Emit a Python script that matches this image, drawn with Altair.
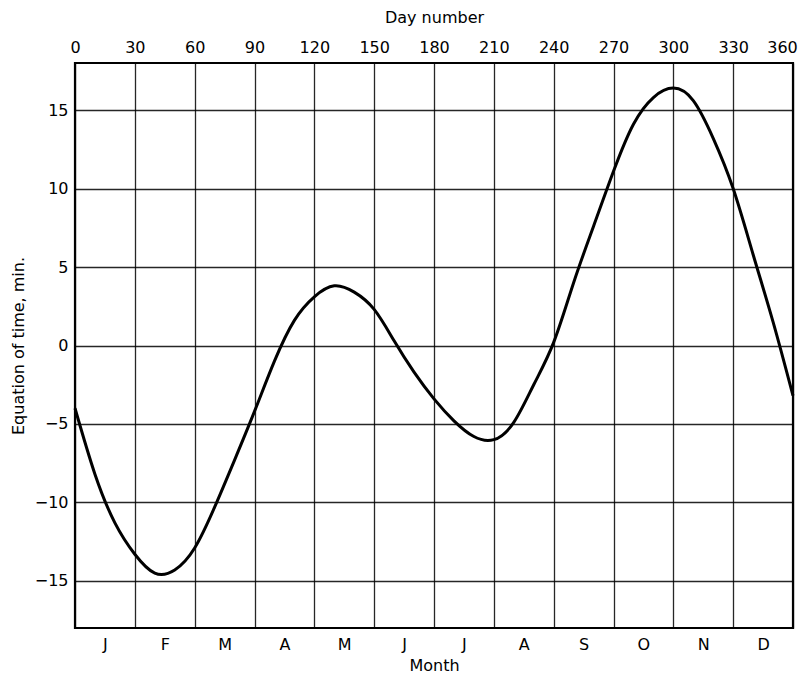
import altair as alt
import pandas as pd

# Equation of time, every 10 days (minutes)
days = list(range(0, 361, 10))
eot = [-4.0, -8.2, -11.3, -13.3, -14.5, -14.3, -12.9, -10.3, -7.3, -4.2,
       -1.0, 1.6, 3.1, 3.8, 3.4, 2.3, 0.3, -1.7, -3.4, -4.8,
       -5.8, -6.0, -4.9, -2.5, 0.2, 4.0, 7.6, 11.1, 14.1, 15.8,
       16.4, 15.6, 13.2, 10.0, 5.8, 1.5, -3.2]

day_ticks = list(range(0, 361, 30))
y_ticks = [-15, -10, -5, 0, 5, 10, 15]
month_letters = ["J", "F", "M", "A", "M", "J", "J", "A", "S", "O", "N", "D"]
month_centers = [15 + 30 * i for i in range(12)]

df = pd.DataFrame({"day": days, "eot": eot})
mdf = pd.DataFrame({"mid": month_centers, "m": month_letters})

FONT = "DejaVu Sans"
label_expr = "[" + ",".join("'%s'" % m for m in month_letters) + "][floor(datum.value/30)]"

line = alt.Chart(df).mark_line(
    color="black", strokeWidth=3, interpolate="natural"
).encode(
    x=alt.X("day:Q",
            scale=alt.Scale(domain=[0, 360], nice=False, zero=False),
            axis=alt.Axis(orient="top", title="Day number", values=day_ticks,
                          grid=True, gridColor="black", gridWidth=1.3,
                          gridOpacity=0.85, ticks=False, domain=False,
                          labelFont=FONT, labelFontSize=16, labelColor="black",
                          labelPadding=8, labelFlush=False,
                          labelOffset={"condition": {"test": "datum.value === 360", "value": -11}, "value": 0},
                          titleFont=FONT, titleFontSize=16, titleFontWeight="normal",
                          titleColor="black", titlePadding=14)),
    y=alt.Y("eot:Q",
            scale=alt.Scale(domain=[-18, 18], nice=False, zero=False),
            axis=alt.Axis(title="Equation of time, min.", values=y_ticks,
                          grid=True, gridColor="black", gridWidth=1.3,
                          gridOpacity=0.85, ticks=False, domain=False,
                          labelFont=FONT, labelFontSize=16, labelColor="black",
                          labelPadding=7,
                          titleFont=FONT, titleFontSize=16, titleFontWeight="normal",
                          titleColor="black", titlePadding=8)),
)

months = alt.Chart(mdf).mark_point(opacity=0).encode(
    x=alt.X("mid:Q",
            scale=alt.Scale(domain=[0, 360], nice=False, zero=False),
            axis=alt.Axis(orient="bottom", title="Month", values=month_centers,
                          labelExpr=label_expr, grid=False, ticks=False,
                          domain=False, labelFont=FONT, labelFontSize=16,
                          labelColor="black", labelPadding=8,
                          titleFont=FONT, titleFontSize=16,
                          titleFontWeight="normal", titleColor="black",
                          titlePadding=5)),
    y=alt.value(0),
)

chart = alt.layer(line, months).resolve_scale(x="independent").properties(
    width=718, height=565,
    autosize=alt.AutoSizeParams(type="none"),
    padding={"left": 67, "top": 55, "right": 5, "bottom": 47},
    background="white",
).configure_view(stroke="black", strokeWidth=2.2)

chart.save("out.html", embed_options={"renderer": "svg", "actions": False})
